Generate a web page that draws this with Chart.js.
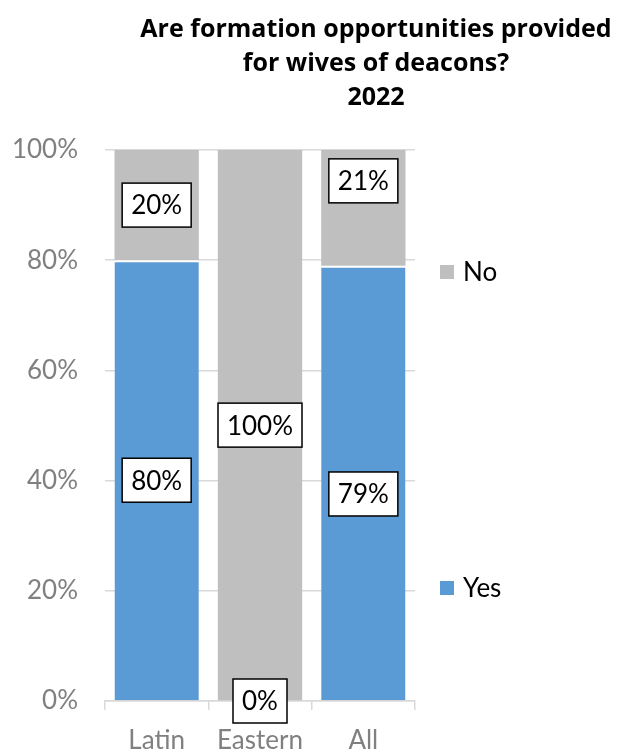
<!DOCTYPE html>
<html lang="en">
<head>
<meta charset="UTF-8">
<title>Formation opportunities for wives of deacons</title>
<script src="https://cdn.jsdelivr.net/npm/chart.js"></script>
<style>
  html, body { margin: 0; padding: 0; background: #fff; }
  #wrap { position: relative; width: 634px; height: 754px; }
</style>
</head>
<body>
<div id="wrap"><canvas id="chart"></canvas></div>
<script>
// data
const categories = ['Latin', 'Eastern', 'All'];
const yesValues = [80, 0, 79];
const noValues = [20, 100, 21];
const yTicks = [0, 20, 40, 60, 80, 100];
const titleLines = ['Are formation opportunities provided', 'for wives of deacons?', '2022'];

const FONT = 'Lato, "Open Sans", sans-serif';
const TITLE_FONT = '"Open Sans", Lato, sans-serif';
const BLUE = '#5b9bd5';
const GREY = '#bfbfbf';

// title, legend and boxed value labels drawn like the Excel original
const extras = {
  id: 'extras',
  afterDraw(chart, args, opts) {
    const ctx = chart.ctx;
    ctx.save();

    // title
    ctx.fillStyle = '#000';
    ctx.textAlign = 'center';
    ctx.textBaseline = 'middle';
    ctx.font = 'bold 25px ' + TITLE_FONT;
    titleLines.forEach((t, i) => ctx.fillText(t, opts.titleX, opts.titleY + i * 34));

    // value labels
    ctx.font = '26px ' + FONT;
    chart.data.datasets.forEach((ds, di) => {
      chart.getDatasetMeta(di).data.forEach((bar, i) => {
        const text = ds.data[i] + '%';
        const cx = bar.x;
        const cy = (bar.y + bar.base) / 2 + ((opts.nudge[di] || [])[i] || 0);
        const w = Math.round(ctx.measureText(text).width + 18);
        const h = 44;
        ctx.fillStyle = '#fff';
        ctx.fillRect(cx - w / 2, cy - h / 2, w, h);
        ctx.strokeStyle = '#000';
        ctx.lineWidth = 1.5;
        ctx.strokeRect(cx - w / 2, cy - h / 2, w, h);
        ctx.fillStyle = '#000';
        ctx.fillText(text, cx, cy + 1);
      });
    });

    // legend (No on top, Yes below)
    ctx.textAlign = 'left';
    ctx.font = '26px ' + FONT;
    opts.legend.forEach(item => {
      const ds = chart.data.datasets[item.ds];
      ctx.fillStyle = ds.backgroundColor;
      ctx.fillRect(opts.legendX, item.y - 7, 14, 14);
      ctx.fillStyle = '#000';
      ctx.fillText(ds.label, opts.legendX + 23, item.y + 1);
    });

    ctx.restore();
  }
};

new Chart(document.getElementById('chart'), {
  type: 'bar',
  data: {
    labels: categories,
    datasets: [
      {
        label: 'Yes',
        data: yesValues,
        backgroundColor: BLUE,
        borderColor: '#fff',
        borderWidth: { top: 2, left: 0, right: 0, bottom: 0 },
        borderSkipped: false,
        barPercentage: 0.816,
        categoryPercentage: 1
      },
      {
        label: 'No',
        data: noValues,
        backgroundColor: GREY,
        borderWidth: 0,
        barPercentage: 0.816,
        categoryPercentage: 1
      }
    ]
  },
  options: {
    responsive: true,
    maintainAspectRatio: false,
    animation: false,
    layout: { padding: { top: 150, right: 219, left: 0, bottom: 0 } },
    plugins: {
      legend: { display: false },
      title: { display: false },
      tooltip: { enabled: false },
      extras: {
        titleX: 376,
        titleY: 30,
        legendX: 440,
        legend: [{ ds: 1, y: 272 }, { ds: 0, y: 588 }],
        nudge: [[0, 0, 11], [0, 0, -27]]
      }
    },
    scales: {
      x: {
        stacked: true,
        grid: { offset: true, drawOnChartArea: false, drawTicks: true, tickLength: 9, color: '#d9d9d9', lineWidth: 1.5 },
        border: { color: '#d9d9d9', width: 1.5 },
        ticks: { color: '#808080', font: { family: FONT, size: 26 }, padding: 15 },
        afterFit(s) { s.height = 53; }
      },
      y: {
        stacked: true,
        min: 0,
        max: 100,
        afterBuildTicks(s) { s.ticks = yTicks.map(v => ({ value: v })); },
        ticks: { color: '#808080', font: { family: FONT, size: 26 }, padding: 27, callback: v => v + '%' },
        grid: { color: '#d9d9d9', lineWidth: 1.5, drawTicks: false },
        border: { display: false },
        afterFit(s) { s.width = 105; }
      }
    }
  },
  plugins: [extras]
});
</script>
</body>
</html>
